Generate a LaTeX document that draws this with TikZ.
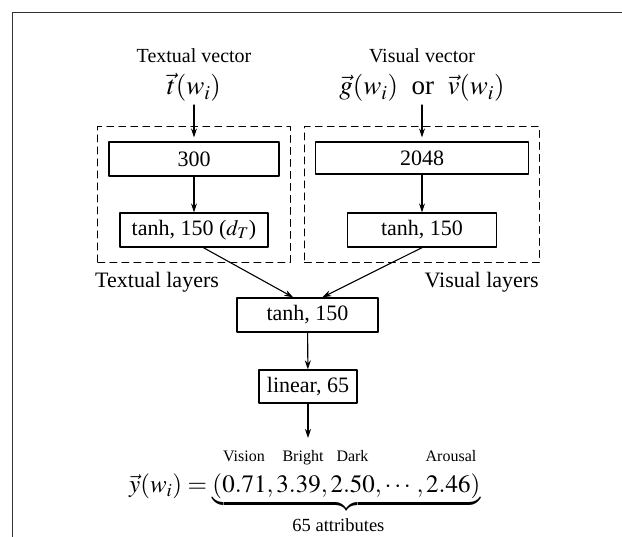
\documentclass[tikz,border=0pt]{standalone}
\usepackage{amsmath}
\usepackage{mathptmx}
\usepackage{fontspec}
\setmainfont{Liberation Serif}
\usetikzlibrary{arrows.meta,fit}
\begin{document}
\begin{tikzpicture}[x=1pt, y=-1pt, line cap=round, line join=round, >={Stealth[length=9pt,width=6pt]}, font=\fontsize{22}{26}\selectfont]
	\tikzset{layer/.style={draw, line width=1.3pt, inner sep=0pt},
		grp/.style={draw, dash pattern=on 7pt off 5pt, line width=0.9pt, inner xsep=10.5pt, inner ysep=14.5pt},
		head/.style={font=\fontsize{20}{24}\selectfont, anchor=base},
		vecs/.style={font=\fontsize{27}{30}\selectfont, anchor=base, inner sep=0pt},
		attr/.style={font=\fontsize{16}{18}\selectfont, anchor=base},
		link/.style={->, line width=1.1pt}}
	\useasboundingbox (0,0) rectangle (622,537);
	\draw[line width=1.5pt, black!80, line cap=butt] (622,12.5)--(12.5,12.5)--(12.5,537);
	% inputs
	\node[head] (ttxt) at (194,63) {Textual vector};
	\node[vecs] (tvec) at (194,95) {$\vec{t}(w_i)$};
	\node[head] (vtxt) at (422,63) {Visual vector};
	\node[vecs] (vvec) at (422,95) {$\vec{g}(w_i)$\enspace or\enspace $\vec{v}(w_i)$};
	% layers
	\node[layer, minimum width=170pt, minimum height=34pt] (b300) at (194,159) {300};
	\node[layer, minimum width=148pt, minimum height=34pt] (bT) at (194,230) {tanh, 150 ($d_T$)};
	\node[layer, minimum width=213pt, minimum height=32pt] (b2048) at (422,158) {2048};
	\node[layer, minimum width=149pt, minimum height=34pt] (bV) at (422,230) {tanh, 150};
	\node[grp, fit=(b300)(bT)] (tgrp) {};
	\node[grp, fit=(b2048)(bV)] (vgrp) {};
	\node[anchor=base west, inner sep=0pt] (tlab) at (95,288) {Textual layers};
	\node[anchor=base east, inner sep=0pt] (vlab) at (539,288) {Visual layers};
	\node[layer, minimum width=141pt, minimum height=34pt] (bM) at (307.5,315) {tanh, 150};
	\node[layer, minimum width=98pt, minimum height=33pt] (bL) at (308,386.5) {linear, 65};
	% output
	\coordinate (out) at (308,438);
	\node[attr] (a1) at (244,462) {Vision};
	\node[attr] (a2) at (303,462) {Bright};
	\node[attr] (a3) at (352.5,462) {Dark};
	\node[attr] (a4) at (451,462) {Arousal};
	\node[anchor=base west, inner sep=0pt, font=\fontsize{25}{30}\selectfont] (yvec) at (129,493)
		{$\vec{y}(w_i)=\underbrace{(0.71,3.39,2.50,\cdots,2.46)}_{\text{\raisebox{-8pt}{65 attributes}\hspace{16pt}}}$};
	\draw[link, shorten <=3pt, shorten >=4pt] (tvec.south)--(b300.north);
	\draw[link, shorten <=3pt, shorten >=4pt] (vvec.south)--(b2048.north);
	\draw[link] (b300)--(bT);
	\draw[link] (b2048)--(bV);
	\draw[link] (bT.-62)--(bM.129);
	\draw[link] (bV.south)--(bM.50);
	\draw[link] (bM)--(bL);
	\draw[link] (bL)--(out);
\end{tikzpicture}
\end{document}
